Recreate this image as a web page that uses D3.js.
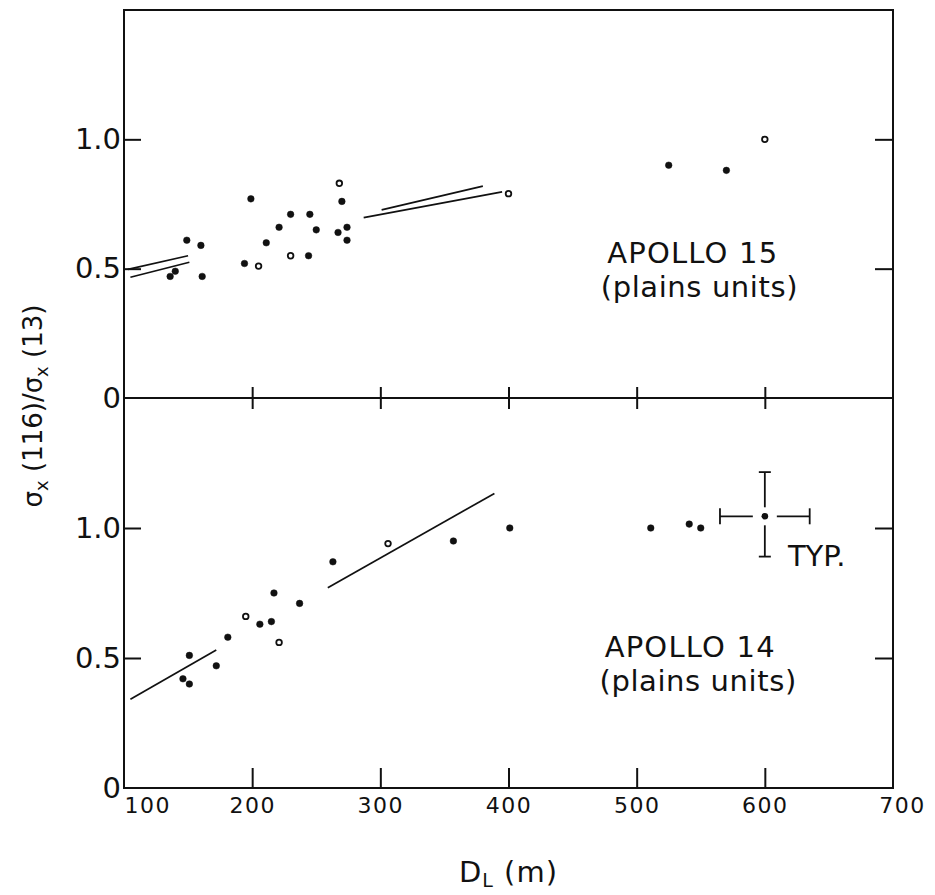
<!DOCTYPE html>
<html>
<head>
<meta charset="utf-8">
<script src="https://cdn.jsdelivr.net/npm/d3@7"></script>
<style>
    body { margin: 0; background: #fff; }
    svg { display: block; }
    text { font-family: "DejaVu Sans", sans-serif; fill: #111; }
</style>
</head>
<body>
<div id="chart"></div>
<script>
  // Data
    const xTicks = [100, 200, 300, 400, 500, 600, 700]
    const yTicks = [0, 0.5, 1.0]
    const yTickLabels = ["0", "0.5", "1.0"]

    // Apollo 15 (upper panel)
    const a15Dist  = [136, 140, 149, 160, 161, 194, 205, 199, 211, 221, 230, 230,
                      245, 244, 250, 268, 270, 267, 274, 274, 400, 525, 570, 600]
    const a15Ratio = [0.47, 0.49, 0.61, 0.59, 0.47, 0.52, 0.51, 0.77, 0.60, 0.66, 0.71, 0.55,
                      0.71, 0.55, 0.65, 0.83, 0.76, 0.64, 0.66, 0.61, 0.79, 0.90, 0.88, 1.00]
    const a15Open  = [0, 0, 0, 0, 0, 0, 1, 0, 0, 0, 0, 1,
                      0, 0, 0, 1, 0, 0, 0, 0, 1, 0, 0, 1]
    const a15Fits = [
        [[103, 0.497], [150, 0.550]],
        [[105, 0.467], [151, 0.525]],
        [[287, 0.697], [395, 0.797]],
        [[301, 0.727], [380, 0.819]],
    ]

    // Apollo 14 (lower panel)
    const a14Dist  = [146, 151, 151, 172, 181, 195, 206, 215, 217, 221, 237, 263,
                      306, 357, 401, 511, 541, 550]
    const a14Ratio = [0.42, 0.40, 0.51, 0.47, 0.58, 0.66, 0.63, 0.64, 0.75, 0.56, 0.71, 0.87,
                      0.94, 0.95, 1.00, 1.00, 1.015, 1.00]
    const a14Open  = [0, 0, 0, 0, 0, 1, 0, 0, 0, 1, 0, 0,
                      1, 0, 0, 0, 0, 0]
    const a14Fits = [
        [[105, 0.341], [172, 0.531]],
        [[259, 0.770], [389, 1.133]],
    ]

    // typical error bar
    const errCenter = [600, 1.045]
    const errX = [565, 635]
    const errY = [0.89, 1.215]

  // Dimensions
    const dimensions = {
        width: 935,
        height: 895,
        left: 124,
        right: 893,
        top: 10,
        mid: 398,
        bottom: 788,
    }
    const { left, right, mid, bottom } = dimensions
    const plotTop = dimensions.top

    const svg = d3.select("#chart")
        .append("svg")
            .attr("width", dimensions.width)
            .attr("height", dimensions.height)

  // Scales
    const xScale = d3.scaleLinear()
        .domain([100, 700])
        .range([left, right])
    const yTop = d3.scaleLinear()
        .domain([0, 1.5])
        .range([mid, plotTop])
    const yBot = d3.scaleLinear()
        .domain([0, 1.5])
        .range([bottom, mid])

  // Frame
    svg.append("rect")
        .attr("x", left)
        .attr("y", plotTop)
        .attr("width", right - left)
        .attr("height", bottom - plotTop)
        .attr("fill", "none")
        .attr("stroke", "#111")
        .attr("stroke-width", 2)
    svg.append("line")
        .attr("x1", left).attr("x2", right)
        .attr("y1", mid).attr("y2", mid)
        .attr("stroke", "#111")
        .attr("stroke-width", 2)

  // Tick marks
    const innerX = [200, 300, 400, 500, 600]
    const tickStyle = g => {
        g.select(".domain").remove()
        g.selectAll("line").attr("stroke", "#111").attr("stroke-width", 2)
    }
    svg.append("g")
        .attr("transform", `translate(0,${bottom})`)
        .call(d3.axisTop(xScale).tickValues(innerX).tickSize(20).tickFormat(""))
        .call(tickStyle)
    svg.append("g")
        .attr("transform", `translate(0,${mid})`)
        .call(d3.axisTop(xScale).tickValues(innerX).tickSize(11).tickFormat(""))
        .call(tickStyle)
    svg.append("g")
        .attr("transform", `translate(0,${mid})`)
        .call(d3.axisBottom(xScale).tickValues(innerX).tickSize(11).tickFormat(""))
        .call(tickStyle)

    ;[yTop, yBot].forEach(y => {
        svg.append("g")
            .attr("transform", `translate(${left},0)`)
            .call(d3.axisRight(y).tickValues([0.5, 1.0]).tickSize(17).tickFormat(""))
            .call(tickStyle)
        svg.append("g")
            .attr("transform", `translate(${right},0)`)
            .call(d3.axisLeft(y).tickValues([0.5, 1.0]).tickSize(18).tickFormat(""))
            .call(tickStyle)

        // y tick labels
        const yl = svg.append("g")
            .attr("transform", `translate(${left},0)`)
            .call(d3.axisLeft(y).tickValues(yTicks).tickSize(0).tickPadding(3)
                .tickFormat((d, i) => yTickLabels[i]))
        yl.select(".domain").remove()
        yl.selectAll("text")
            .attr("font-family", "DejaVu Sans, sans-serif")
            .attr("font-size", 29)
            .attr("fill", "#111")
    })

  // x tick labels
    const xl = svg.append("g")
        .attr("transform", `translate(0,${bottom})`)
        .call(d3.axisBottom(xScale).tickValues(xTicks).tickSize(0).tickPadding(9))
    xl.select(".domain").remove()
    xl.selectAll("text")
        .attr("font-family", "DejaVu Sans, sans-serif")
        .attr("font-size", 22)
        .attr("letter-spacing", 1.5)
        .attr("fill", "#111")
    xl.selectAll("text").filter(d => d === 100)
        .attr("text-anchor", "start")
    xl.selectAll("text").filter(d => d === 700)
        .attr("dx", 9)

  // Panels
    const drawPanel = (dist, ratio, hollow, fits, y) => {
        const g = svg.append("g")

        const lineGenerator = d3.line()
            .x(d => xScale(d[0]))
            .y(d => y(d[1]))
        g.selectAll(".fit")
            .data(fits)
            .enter()
            .append("path")
                .attr("class", "fit")
                .attr("d", lineGenerator)
                .attr("fill", "none")
                .attr("stroke", "#111")
                .attr("stroke-width", 1.7)

        const pts = dist.map((d, i) => ({x: d, y: ratio[i], open: hollow[i]}))
        g.selectAll(".pt")
            .data(pts)
            .enter()
            .append("circle")
                .attr("class", "pt")
                .attr("cx", d => xScale(d.x))
                .attr("cy", d => y(d.y))
                .attr("r", d => d.open ? 2.8 : 3.3)
                .attr("fill", d => d.open ? "#fff" : "#111")
                .attr("stroke", "#111")
                .attr("stroke-width", d => d.open ? 1.8 : 0.5)
    }
    drawPanel(a15Dist, a15Ratio, a15Open, a15Fits, yTop)
    drawPanel(a14Dist, a14Ratio, a14Open, a14Fits, yBot)

  // Typical error bar
    const ex = xScale(errCenter[0])
    const ey = yBot(errCenter[1])
    const eg = svg.append("g")
        .attr("stroke", "#111")
        .attr("stroke-width", 1.8)
    const gapX = 12, gapY = 9
    const segs = [
        [xScale(errX[0]), ey, ex - gapX, ey],
        [ex + gapX, ey, xScale(errX[1]), ey],
        [ex, yBot(errY[1]), ex, ey - gapY],
        [ex, ey + gapY, ex, yBot(errY[0])],
        [xScale(errX[0]), ey - 8, xScale(errX[0]), ey + 8],
        [xScale(errX[1]), ey - 8, xScale(errX[1]), ey + 8],
        [ex - 6, yBot(errY[1]), ex + 6, yBot(errY[1])],
        [ex - 6, yBot(errY[0]), ex + 6, yBot(errY[0])],
    ]
    eg.selectAll("line")
        .data(segs)
        .enter()
        .append("line")
            .attr("x1", d => d[0]).attr("y1", d => d[1])
            .attr("x2", d => d[2]).attr("y2", d => d[3])
    svg.append("circle")
        .attr("cx", ex).attr("cy", ey)
        .attr("r", 3.3)
        .attr("fill", "#111")

    svg.append("text")
        .attr("x", xScale(618))
        .attr("y", yBot(0.854))
        .attr("font-size", 29)
        .text("TYP.")

  // Panel labels
    const panelLabel = (name, y, x1, y1, x2, y2) => {
        svg.append("text")
            .attr("x", xScale(x1)).attr("y", y(y1))
            .attr("font-size", 29)
            .attr("letter-spacing", 1.2)
            .text(name)
        svg.append("text")
            .attr("x", xScale(x2)).attr("y", y(y2))
            .attr("font-size", 29)
            .attr("letter-spacing", 0.6)
            .text("(plains units)")
    }
    panelLabel("APOLLO 15", yTop, 477, 0.52, 472, 0.39)
    panelLabel("APOLLO 14", yBot, 475, 0.505, 471, 0.375)

  // Axis titles
    const xTitle = svg.append("text")
        .attr("x", xScale(400))
        .attr("y", 882)
        .attr("text-anchor", "middle")
        .attr("font-size", 29)
        .attr("letter-spacing", 1)
    xTitle.append("tspan").text("D")
    xTitle.append("tspan").attr("font-size", 19).attr("dy", 5).text("L")
    xTitle.append("tspan").attr("dy", -5).text(" (m)")

    const yTitle = svg.append("text")
        .attr("transform", "translate(42,406) rotate(-90)")
        .attr("text-anchor", "middle")
        .attr("font-size", 26)
    yTitle.append("tspan").text("σ")
    yTitle.append("tspan").attr("font-size", 18).attr("dy", 6).text("x")
    yTitle.append("tspan").attr("dy", -6).text(" (116)/σ")
    yTitle.append("tspan").attr("font-size", 18).attr("dy", 6).text("x")
    yTitle.append("tspan").attr("dy", -6).text(" (13)")
</script>
</body>
</html>
